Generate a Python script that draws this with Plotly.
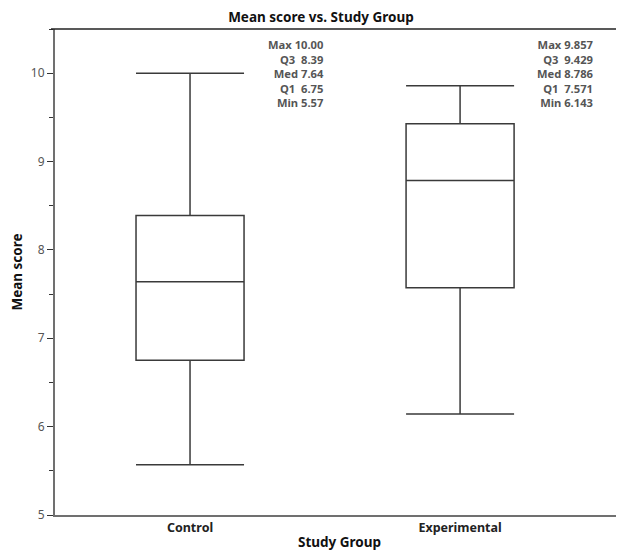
import plotly.graph_objects as go

groups = ["Control", "Experimental"]
mins = [5.57, 6.143]
q1s = [6.75, 7.571]
medians = [7.64, 8.786]
q3s = [8.39, 9.429]
maxs = [10.00, 9.857]
decimals = [2, 3]
y_ticks = [5, 6, 7, 8, 9, 10]

FONT = "Noto Sans"

# page body has a default 8px margin: figure size/margins compensate for it
W, H = 616, 543

fig = go.Figure()
fig.add_trace(go.Box(
    x=groups, q1=q1s, median=medians, q3=q3s,
    lowerfence=mins, upperfence=maxs,
    width=0.4, whiskerwidth=1,
    fillcolor="white", line=dict(color="#3a3a3a", width=1.5),
    boxpoints=False, showlegend=False, hoverinfo="skip",
))

for i, g in enumerate(groups):
    d = decimals[i]
    lines = [
        f"Max {maxs[i]:.{d}f}",
        f"Q3  {q3s[i]:.{d}f}",
        f"Med {medians[i]:.{d}f}",
        f"Q1  {q1s[i]:.{d}f}",
        f"Min {mins[i]:.{d}f}",
    ]
    fig.add_annotation(
        x=i + 0.504, xref="x", y=1, yref="paper",
        xanchor="right", yanchor="top", yshift=-6,
        text="<br>".join("<b>" + s + "</b>" for s in lines),
        showarrow=False, align="right",
        font=dict(family=FONT, size=11.2, color="#555555"),
    )

fig.add_shape(type="line", xref="paper", yref="paper", x0=-0.007, x1=1, y0=1, y1=1,
              line=dict(color="#222222", width=1.5))

fig.update_layout(
    width=W, height=H,
    margin=dict(l=47, r=0, t=21, b=36, autoexpand=False),
    paper_bgcolor="white", plot_bgcolor="white",
    font=dict(family=FONT, size=12, color="#555555"),
    title=dict(text="<b>Mean score vs. Study Group</b>", x=0.508, xanchor="center",
               y=1 - 9 / H, yanchor="middle", yref="container", automargin=False,
               font=dict(family=FONT, size=13.5, color="#111111")),
    xaxis=dict(
        type="category", range=[-0.5, 1.607], automargin=False,
        showline=True, linecolor="#707070", linewidth=2,
        ticks="", showgrid=False, zeroline=False,
        tickfont=dict(family=FONT, size=12.5, color="#222222"),
        tickprefix="<b>", ticksuffix="</b>",
        title=dict(text="<b>Study Group</b>", standoff=4,
                   font=dict(family=FONT, size=13.5, color="#111111")),
    ),
    yaxis=dict(
        range=[5, 10.5], tickvals=y_ticks, automargin=False,
        showline=True, linecolor="#707070", linewidth=2,
        ticks="outside", ticklen=6, tickcolor="#333333", tickwidth=1,
        minor=dict(dtick=0.5, ticks="outside", ticklen=4, tickcolor="#333333", showgrid=False),
        showgrid=False, zeroline=False,
        tickfont=dict(family=FONT, size=12, color="#555555"),
        title=dict(text="<b>Mean score</b>", standoff=12,
                   font=dict(family=FONT, size=13.5, color="#111111")),
    ),
)

fig.write_html("out.html")
